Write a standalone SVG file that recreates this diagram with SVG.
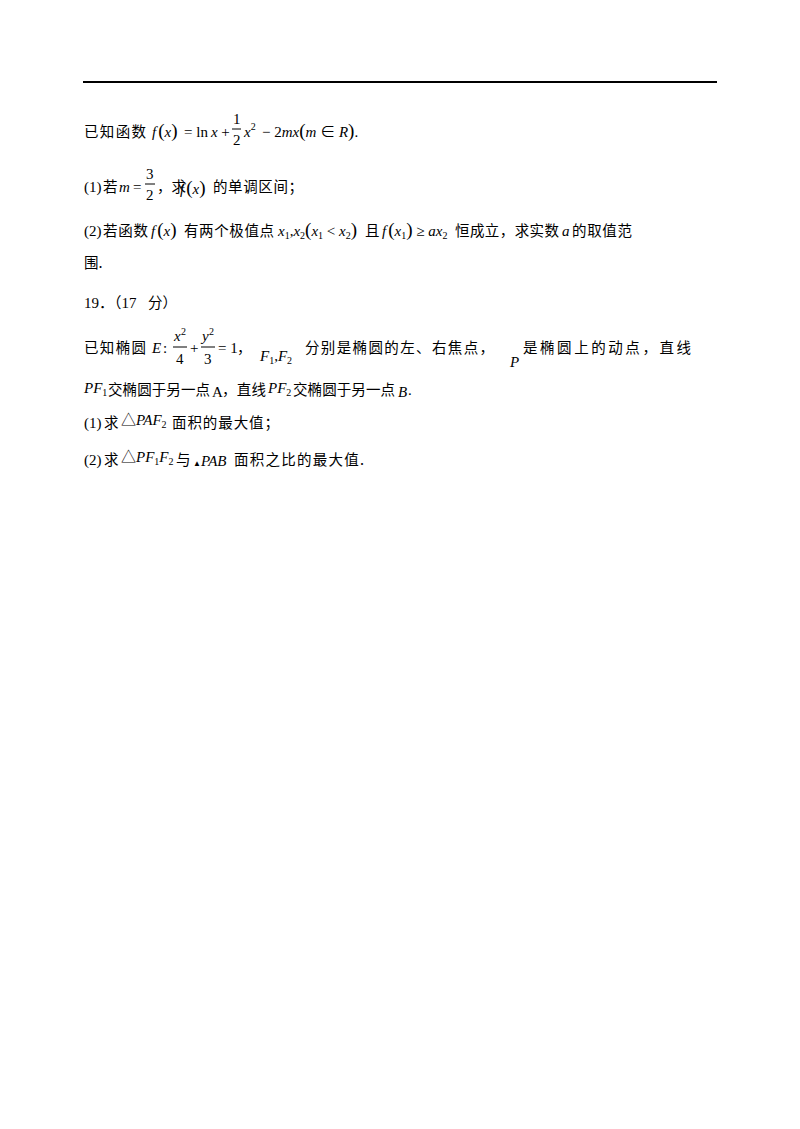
<svg xmlns="http://www.w3.org/2000/svg" width="800" height="1129" viewBox="0 0 800 1129">
<style>
text{font-family:"Liberation Serif","Noto Sans CJK SC",serif;font-size:15px;fill:#000}
.c{font-family:"Noto Sans CJK SC","Liberation Sans",sans-serif;font-size:14.5px}
.i{font-style:italic}
.s{font-size:10px}
.p{font-size:19px}
</style>
<rect width="800" height="1129" fill="#fff"/>
<line x1="83" y1="82" x2="717" y2="82" stroke="#000" stroke-width="2"/>
<g id="p18">
<text class="c" x="84" y="137" textLength="62" lengthAdjust="spacing">已知函数</text>
<text x="152" y="137"><tspan class="i">f</tspan><tspan class="p" dx="2">(</tspan><tspan class="i">x</tspan><tspan class="p">)</tspan></text>
<text x="184" y="137">= ln<tspan class="i" dx="3">x</tspan> +</text>
<text x="233" y="124" font-size="14">1</text><line x1="232" y1="129" x2="241" y2="129" stroke="#000"/><text x="233" y="145" font-size="14">2</text>
<text x="244" y="137"><tspan class="i">x</tspan><tspan class="s" dy="-7">2</tspan></text>
<text x="262" y="137">− 2<tspan class="i">mx</tspan><tspan class="p">(</tspan><tspan class="i">m</tspan> ∈ <tspan class="i">R</tspan><tspan class="p">)</tspan>.</text>
<text x="84" y="192">(1)</text><text class="c" x="103" y="192">若</text>
<text x="119" y="192" class="i">m</text><text x="133" y="192">=</text>
<text x="146" y="179" font-size="14">3</text><line x1="145" y1="184" x2="155" y2="184" stroke="#000"/><text x="146" y="200" font-size="14">2</text>
<text class="c" x="157" y="192" textLength="29" lengthAdjust="spacing">，求</text>
<text x="180" y="194"><tspan class="i">f</tspan><tspan class="p" dx="2">(</tspan><tspan class="i">x</tspan><tspan class="p">)</tspan></text>
<text class="c" x="213" y="192" textLength="90" lengthAdjust="spacing">的单调区间；</text>
<text x="84" y="236">(2)</text><text class="c" x="103" y="236" textLength="45" lengthAdjust="spacing">若函数</text>
<text x="151" y="236"><tspan class="i">f</tspan><tspan class="p" dx="2">(</tspan><tspan class="i">x</tspan><tspan class="p">)</tspan></text>
<text class="c" x="184" y="236" textLength="90" lengthAdjust="spacing">有两个极值点</text>
<text x="278" y="236"><tspan class="i">x</tspan><tspan class="s" dy="3">1</tspan><tspan dy="-3">,</tspan><tspan class="i">x</tspan><tspan class="s" dy="3">2</tspan><tspan dy="-3" class="p">(</tspan><tspan class="i">x</tspan><tspan class="s" dy="3">1</tspan><tspan dy="-3"> &lt; </tspan><tspan class="i">x</tspan><tspan class="s" dy="3">2</tspan><tspan dy="-3" class="p">)</tspan></text>
<text class="c" x="365" y="236">且</text>
<text x="382" y="236"><tspan class="i">f</tspan><tspan class="p" dx="2">(</tspan><tspan class="i">x</tspan><tspan class="s" dy="3">1</tspan><tspan dy="-3" class="p">)</tspan> ≥ <tspan class="i">ax</tspan><tspan class="s" dy="3">2</tspan></text>
<text class="c" x="455" y="236" textLength="104" lengthAdjust="spacing">恒成立，求实数</text>
<text x="562" y="236" class="i">a</text>
<text class="c" x="572" y="236" textLength="60" lengthAdjust="spacing">的取值范</text>
<text class="c" x="84" y="268">围.</text>
</g>
<g id="p19">
<text x="84" y="308">19．（17</text><text class="c" x="148" y="308">分）</text>
<text class="c" x="84" y="353" textLength="62" lengthAdjust="spacing">已知椭圆</text>
<text x="152" y="353" class="i">E</text><text x="163" y="353">:</text>
<text x="174" y="341" font-size="14" class="i">x</text><text x="181" y="335" class="s">2</text><line x1="173" y1="347" x2="187" y2="347" stroke="#000"/><text x="176" y="364" font-size="14">4</text>
<text x="190" y="353">+</text>
<text x="202" y="341" font-size="14" class="i">y</text><text x="209" y="335" class="s">2</text><line x1="201" y1="347" x2="215" y2="347" stroke="#000"/><text x="204" y="364" font-size="14">3</text>
<text x="218" y="353">= 1</text><text class="c" x="237" y="353">，</text>
<text x="260" y="361"><tspan class="i">F</tspan><tspan class="s" dy="3">1</tspan><tspan dy="-3">,</tspan><tspan class="i">F</tspan><tspan class="s" dy="3">2</tspan></text>
<text class="c" x="305" y="353" textLength="189" lengthAdjust="spacing">分别是椭圆的左、右焦点，</text>
<text x="510" y="367" class="i">P</text>
<text class="c" x="523" y="353" textLength="168" lengthAdjust="spacing">是椭圆上的动点，直线</text>
<text x="84" y="393"><tspan class="i">PF</tspan><tspan class="s" dy="3">1</tspan></text>
<text class="c" x="108" y="395" textLength="102" lengthAdjust="spacing">交椭圆于另一点</text><text x="212" y="397" font-family="Liberation Sans" font-size="12">A</text>
<text class="c" x="222" y="395" textLength="44" lengthAdjust="spacing">，直线</text>
<text x="268" y="393"><tspan class="i">PF</tspan><tspan class="s" dy="3">2</tspan></text>
<text class="c" x="293" y="395" textLength="102" lengthAdjust="spacing">交椭圆于另一点</text><text x="398" y="397" class="i" font-size="12">B</text><text x="408" y="395">.</text>
<text x="84" y="428">(1)</text><text class="c" x="104" y="428">求</text>
<text x="121" y="425">△<tspan class="i">PAF</tspan><tspan class="s" dy="3">2</tspan></text>
<text class="c" x="172" y="428" textLength="107" lengthAdjust="spacing">面积的最大值；</text>
<text x="84" y="465">(2)</text><text class="c" x="104" y="465">求</text>
<text x="121" y="462">△<tspan class="i">PF</tspan><tspan class="s" dy="3">1</tspan><tspan dy="-3" class="i">F</tspan><tspan class="s" dy="3">2</tspan></text>
<text class="c" x="176" y="465">与</text>
<text x="193" y="466"><tspan font-size="8">▲</tspan><tspan class="i">PAB</tspan></text>
<text class="c" x="234" y="465" textLength="130" lengthAdjust="spacing">面积之比的最大值.</text>
</g>
</svg>
